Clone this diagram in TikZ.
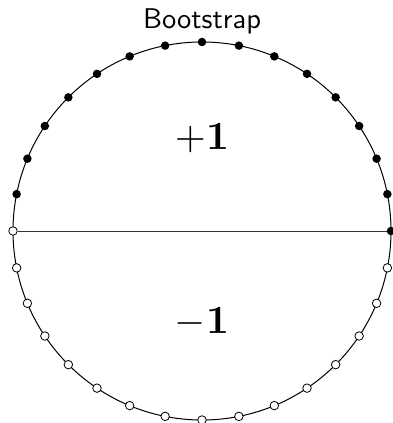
\documentclass[tikz,border=0pt]{standalone}
\usepackage{tikz}
\usetikzlibrary{positioning}

\begin{document}
\begin{tikzpicture}[
  x=1pt, y=1pt,
  every node/.style={inner sep=0pt},
  fulldot/.style={circle, fill=black, minimum size=8.5pt},
  opendot/.style={circle, draw=black, line width=0.8pt, fill=white, minimum size=8.5pt},
  bigsign/.style={scale=4},
]

%% ── Frame of the picture ────────────────────────────────────────────────────
\useasboundingbox (0,0) rectangle (393,423);

\def\rad{189}     % radius of the circle
\def\nstep{11.25} % 360/32 degrees between two sample points

\coordinate (c) at (202,192);

%% Title
\node[font=\sffamily, scale=2.85] (title) at (202,401.5) {Bootstrap};

%% Circle
\draw[line width=1pt] (c) circle (\rad);

%% Upper half: filled points
\foreach \i in {0,...,15}
  \node[fulldot] (p\i) at ([shift={(\i*\nstep:\rad)}]c) {};

%% Lower half: open points
\foreach \i in {16,...,31}
  \node[opendot] (p\i) at ([shift={(\i*\nstep:\rad)}]c) {};

%% Diameter
\draw[line width=0.9pt, black!80] (p16) -- (p0);

%% Labels of the two halves
\node[bigsign] (plus)  at (202,285) {$+\mathbf{1}$};
\node[bigsign] (minus) at (202,101) {$-\mathbf{1}$};

\end{tikzpicture}
\end{document}
